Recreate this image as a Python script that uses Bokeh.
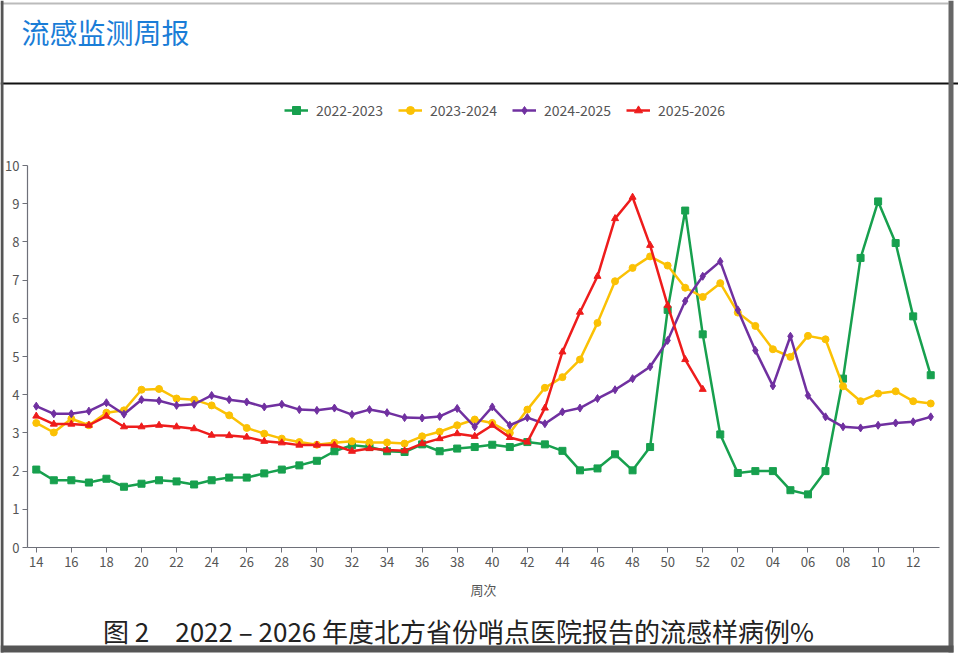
from bokeh.plotting import figure
from bokeh.models import Range1d, FixedTicker, Label, Legend, LegendItem, BoxAnnotation
from bokeh.embed import file_html
from bokeh.resources import INLINE

weeks = ["14", "15", "16", "17", "18", "19", "20", "21", "22", "23", "24", "25", "26",
         "27", "28", "29", "30", "31", "32", "33", "34", "35", "36", "37", "38", "39",
         "40", "41", "42", "43", "44", "45", "46", "47", "48", "49", "50", "51", "52",
         "01", "02", "03", "04", "05", "06", "07", "08", "09", "10", "11", "12", "13"]

s2022 = [2.04, 1.76, 1.76, 1.70, 1.80, 1.59, 1.67, 1.76, 1.73, 1.65, 1.76, 1.83, 1.83,
         1.94, 2.04, 2.15, 2.27, 2.52, 2.68, 2.63, 2.52, 2.50, 2.70, 2.52, 2.59, 2.63,
         2.69, 2.63, 2.76, 2.70, 2.53, 2.02, 2.07, 2.44, 2.02, 2.63, 6.22, 8.82, 5.58,
         2.96, 1.95, 2.00, 2.00, 1.50, 1.39, 2.00, 4.42, 7.58, 9.06, 7.97, 6.05, 4.51]

s2023 = [3.26, 3.01, 3.37, 3.20, 3.53, 3.59, 4.13, 4.15, 3.90, 3.87, 3.72, 3.46, 3.13,
         2.98, 2.85, 2.76, 2.69, 2.74, 2.78, 2.75, 2.75, 2.72, 2.91, 3.03, 3.20, 3.35,
         3.26, 3.00, 3.61, 4.18, 4.46, 4.92, 5.88, 6.97, 7.32, 7.62, 7.38, 6.80, 6.56,
         6.92, 6.15, 5.80, 5.19, 4.99, 5.54, 5.45, 4.22, 3.83, 4.03, 4.09, 3.83, 3.77]

s2024 = [3.70, 3.50, 3.50, 3.57, 3.79, 3.49, 3.87, 3.84, 3.72, 3.75, 3.98, 3.87, 3.81,
         3.68, 3.75, 3.61, 3.59, 3.65, 3.48, 3.61, 3.53, 3.40, 3.39, 3.43, 3.64, 3.16,
         3.68, 3.20, 3.40, 3.24, 3.55, 3.65, 3.90, 4.13, 4.42, 4.73, 5.42, 6.45, 7.10,
         7.49, 6.22, 5.16, 4.23, 5.53, 3.98, 3.42, 3.16, 3.13, 3.20, 3.26, 3.29, 3.42]

s2025 = [3.44, 3.23, 3.23, 3.20, 3.44, 3.16, 3.16, 3.20, 3.16, 3.11, 2.94, 2.93, 2.89,
         2.78, 2.74, 2.68, 2.68, 2.68, 2.52, 2.59, 2.55, 2.53, 2.72, 2.85, 2.98, 2.91,
         3.20, 2.88, 2.76, 3.65, 5.12, 6.16, 7.10, 8.61, 9.17, 7.91, 6.34, 4.92, 4.14]

series_names = ["2022-2023", "2023-2024", "2024-2025", "2025-2026"]
y_ticks = [0, 1, 2, 3, 4, 5, 6, 7, 8, 9, 10]

title_text = "流感监测周报"
x_title = "周次"
caption = "图 2　2022 – 2026 年度北方省份哨点医院报告的流感样病例%"

FONT = "Noto Sans CJK SC"
AXIS_COLOR = "#6e7079"
LABEL_COLOR = "#555555"

# canvas geometry (page pixels)
W, H = 958, 653
PAGE_X0, PAGE_Y0 = 0, 0
AX_LEFT, AX_RIGHT = 27, 939      # x-axis extent on page
Y_ZERO, Y_TEN = 547, 165         # page y of value 0 and 10
n = len(weeks)
xpx = (AX_RIGHT - AX_LEFT) / n
ypx = (Y_ZERO - Y_TEN) / 10.0
x_start = -0.5 - (AX_LEFT - PAGE_X0) / xpx
x_end = x_start + W / xpx
y_end = (Y_ZERO - PAGE_Y0) / ypx
y_start = y_end - H / ypx


def sx(px):
    return px - PAGE_X0


def sy(py):
    return H - (py - PAGE_Y0)


p = figure(width=W, height=H, output_backend="svg", toolbar_location=None,
           x_range=Range1d(x_start, x_end), y_range=Range1d(y_start, y_end),
           min_border=0, min_border_left=0, min_border_right=0,
           min_border_top=0, min_border_bottom=0)
p.outline_line_color = None
p.xgrid.visible = False
p.ygrid.visible = False
p.background_fill_color = "white"
p.border_fill_color = "white"

xi = list(range(n))
p.xaxis.ticker = FixedTicker(ticks=xi[::2])
p.xaxis.major_label_overrides = {i: weeks[i] for i in xi}
p.xaxis.fixed_location = 0
p.xaxis.bounds = (-0.5, n - 0.5)
p.yaxis.ticker = FixedTicker(ticks=y_ticks)
p.yaxis.fixed_location = -0.5
p.yaxis.bounds = (0, 10)
for ax in (p.xaxis, p.yaxis):
    ax.minor_tick_line_color = None
    ax.axis_line_color = AXIS_COLOR
    ax.axis_line_width = 1.2
    ax.major_tick_line_color = AXIS_COLOR
    ax.major_tick_in = 0
    ax.major_tick_out = 5
    ax.major_label_text_color = LABEL_COLOR
    ax.major_label_text_font = FONT
    ax.major_label_text_font_size = "13px"
p.yaxis.major_label_standoff = 3
p.xaxis.major_label_standoff = 4
p.xaxis.axis_label = x_title
p.xaxis.axis_label_text_font = FONT
p.xaxis.axis_label_text_font_size = "13px"
p.xaxis.axis_label_text_font_style = "normal"
p.xaxis.axis_label_text_color = LABEL_COLOR
p.xaxis.axis_label_standoff = 10

colors = ["#17a04e", "#fbc104", "#7030a0", "#ee1c1c"]
data = [s2022, s2023, s2024, s2025]
markers = ["square", "circle", "diamond", "triangle"]
msizes = [7, 7, 8, 7]

items = []
for name, ys, c, m, ms in zip(series_names, data, colors, markers, msizes):
    xs = xi[:len(ys)]
    ln = p.line(xs, ys, line_color=c, line_width=2.5)
    sc = p.scatter(xs, ys, marker=m, size=ms, fill_color=c, line_color=c)
    items.append(LegendItem(label=name, renderers=[ln, sc]))

legend = Legend(items=items, orientation="horizontal", location=(sx(284), sy(120)),
                glyph_width=24, glyph_height=20, label_standoff=8, spacing=15,
                padding=0, margin=0, border_line_color=None, background_fill_alpha=0,
                label_text_font=FONT, label_text_font_size="14px", label_text_color=LABEL_COLOR)
p.add_layout(legend, "center")

p.add_layout(Label(x=sx(21), y=sy(31), x_units="screen", y_units="screen", text=title_text,
                   text_font=FONT, text_font_size="28px", text_color="#1a7dd7",
                   text_baseline="middle", text_align="left"))
p.add_layout(Label(x=sx(458), y=sy(630), x_units="screen", y_units="screen", text=caption,
                   text_font=FONT, text_font_size="26px", text_color="#222222",
                   text_baseline="middle", text_align="center"))


def box(l, r, t, b, color):
    p.add_layout(BoxAnnotation(left=sx(l), right=sx(r), top=sy(t), bottom=sy(b),
                               left_units="screen", right_units="screen",
                               bottom_units="screen", top_units="screen",
                               fill_color=color, fill_alpha=1, line_color=None,
                               level="overlay"))


box(0, 948, 2, 4, "#bbbbbb")      # top border of header
box(0, 958, 82, 84, "#111111")    # header separator
box(948, 953, 0, 652, "#666666")  # right frame bar
box(0, 3, 0, 652, "#555555")      # left frame bar
box(0, 953, 645, 652, "#555555")  # bottom frame bar

open("out.html", "w").write(file_html(p, INLINE))
